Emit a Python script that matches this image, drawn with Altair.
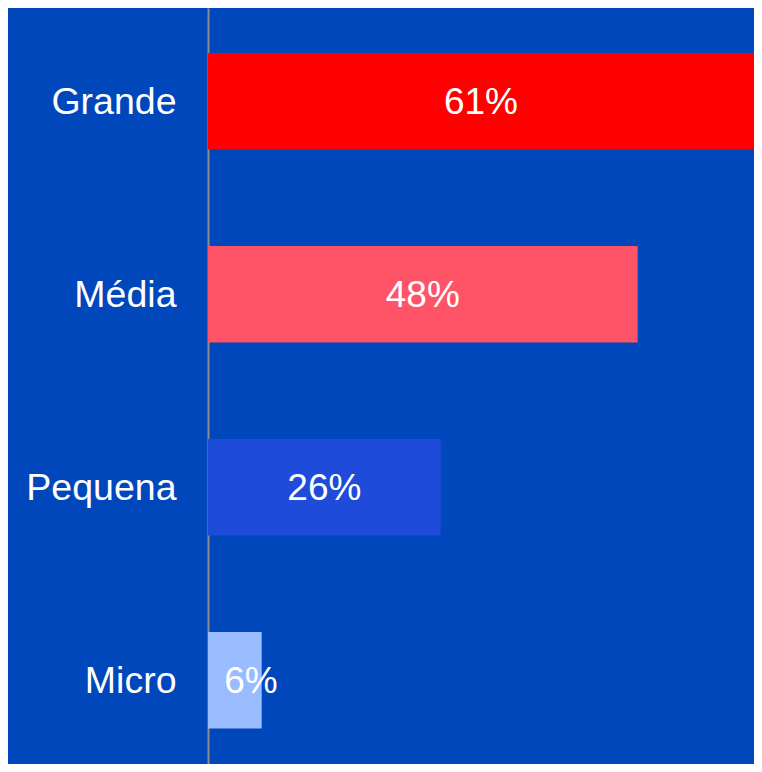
import altair as alt
import pandas as pd

categories = ["Grande", "Média", "Pequena", "Micro"]
values = [61, 48, 26, 6]
colors = ["#FF0000", "#FF5468", "#1F4BDB", "#99BBFF"]

df = pd.DataFrame({"cat": categories, "value": values})
df["label"] = [f"{v}%" for v in values]

FONT = "Liberation Sans, Arial, sans-serif"

y = alt.Y("cat:N", sort=categories, title=None,
          scale=alt.Scale(paddingInner=0.5, paddingOuter=0.2085, align=0.56),
          axis=alt.Axis(ticks=False, labelPadding=32, labelFontSize=37.5,
                        labelFont=FONT, labelColor="white", labelOffset=2,
                        domainColor="#8C8C8C", domainWidth=2,
                        labelFontWeight="normal"))

bars = alt.Chart(df).mark_bar().encode(
    x=alt.X("value:Q", scale=alt.Scale(domain=[0, 61], nice=False),
            axis=None),
    y=y,
    color=alt.Color("cat:N", scale=alt.Scale(domain=categories, range=colors),
                    legend=None),
)

text = alt.Chart(df).transform_calculate(
    pos="max(datum.value / 2, 4.8)"
).mark_text(font=FONT, fontSize=37, color="white", align="center",
            baseline="middle", dy=2).encode(
    x=alt.X("pos:Q"),
    y=alt.Y("cat:N", sort=categories),
    text="label:N",
)

chart = alt.layer(bars, text).properties(
    width=546, height=756,
    autosize=alt.AutoSizeParams(type="none"),
    padding={"left": 200, "top": 0, "right": 0, "bottom": 0},
).configure(background="#0047BB").configure_view(stroke=None)

chart.save("out.html", embed_options={"renderer": "svg", "actions": False})
